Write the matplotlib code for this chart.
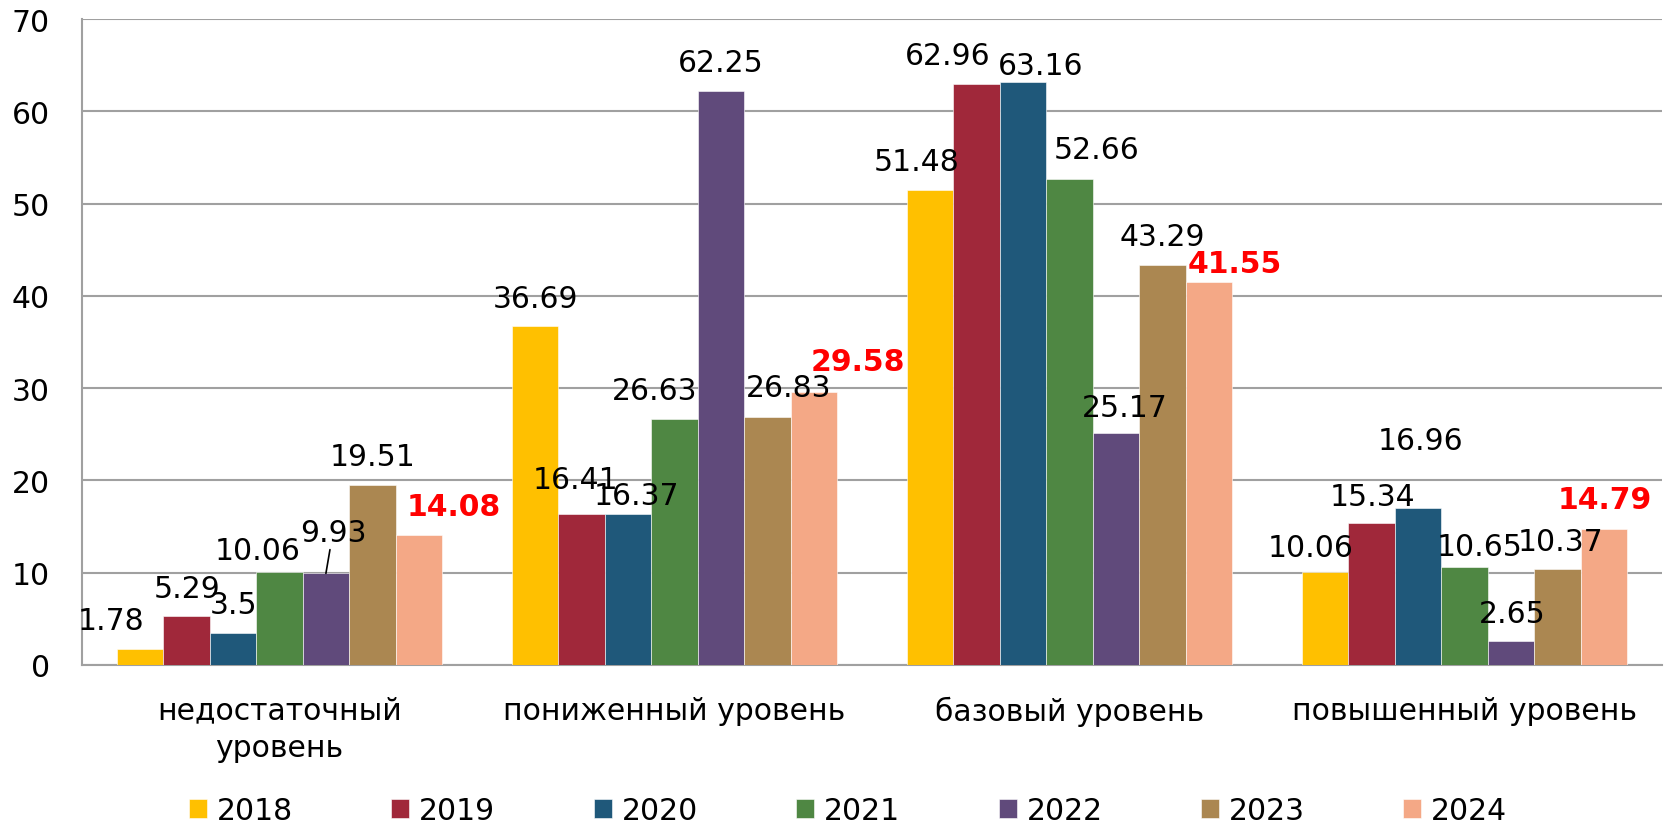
import numpy as np
import matplotlib
matplotlib.use("Agg")
import matplotlib.pyplot as plt

# --- DATA ---
categories = ["недостаточный\nуровень", "пониженный уровень", "базовый уровень", "повышенный уровень"]
years = ["2018", "2019", "2020", "2021", "2022", "2023", "2024"]
v2018 = [1.78, 36.69, 51.48, 10.06]
v2019 = [5.29, 16.41, 62.96, 15.34]
v2020 = [3.5, 16.37, 63.16, 16.96]
v2021 = [10.06, 26.63, 52.66, 10.65]
v2022 = [9.93, 62.25, 25.17, 2.65]
v2023 = [19.51, 26.83, 43.29, 10.37]
v2024 = [14.08, 29.58, 41.55, 14.79]
series = [v2018, v2019, v2020, v2021, v2022, v2023, v2024]

# --- STYLE ---
COLORS = ["#FFC000", "#A0283A", "#1F587A", "#4F8743", "#604A7B", "#AB8751", "#F4A886"]
FS = 21.5
BAR_W = 0.1175

# label offsets in pixels from bar top centre (dx, dy), per series per category
LABEL_OFFSETS = [
    [(-29, 28), (0, 28), (-14, 28), (-15, 25)],
    [(0, 28), (-6, 34), (-29, 28), (1, 27)],
    [(0, 28), (8, 18), (18, 17), (2, 68)],
    [(-22, 22), (-20, 29), (27, 30), (15, 20)],
    [(7, 41), (0, 28), (9, 25), (1, 27)],
    [(0, 28), (21, 30), (0, 29), (3, 28)],
    [(35, 29), (44, 31), (26, 18), (1, 29)],
]

plt.rcParams["font.family"] = ["DejaVu Sans"]

fig = plt.figure(figsize=(16.66, 8.28), dpi=100)
ax = fig.add_axes([82 / 1666, 1 - 666 / 828, 1580 / 1666, 646 / 828])

x = np.arange(len(categories))
for j, (vals, year) in enumerate(zip(series, years)):
    xs = x + (j - 3) * BAR_W
    ax.bar(xs, vals, width=BAR_W, color=COLORS[j], edgecolor="white",
           linewidth=0.4, label=year, zorder=3)
    for i, v in enumerate(vals):
        dx, dy = LABEL_OFFSETS[j][i]
        red = (year == "2024")
        kw = dict(textcoords="offset pixels", ha="center", va="center",
                  fontsize=FS, color="red" if red else "black",
                  fontweight="bold" if red else "normal", zorder=5)
        if j == 4 and i == 0:
            # leader line, as in the source chart
            kw["arrowprops"] = dict(arrowstyle="-", color="black", lw=1.2,
                                    shrinkA=0, shrinkB=0)
        ax.annotate(f"{v:g}", xy=(xs[i], v), xytext=(dx, dy), **kw)

ax.set_xlim(-0.5, len(categories) - 0.5)
ax.set_ylim(0, 70)
ax.set_yticks(range(0, 71, 10))
ax.set_xticks(x)
ax.set_xticklabels(categories, fontsize=FS, linespacing=1.35)
ax.tick_params(axis="x", length=0, pad=22)
ax.tick_params(axis="y", length=0, pad=23, labelsize=FS)

ax.grid(axis="y", color="#A0A0A0", linewidth=1.5, zorder=0)
for s in ["top", "right"]:
    ax.spines[s].set_visible(False)
for s in ["left", "bottom"]:
    ax.spines[s].set_color("#A0A0A0")
    ax.spines[s].set_linewidth(1.5)

fig.legend(loc="center", bbox_to_anchor=(0.509, 0.02), ncol=7, frameon=False,
           fontsize=FS, handlelength=0.6, handleheight=0.6, handletextpad=0.33,
           columnspacing=3.3)

fig.savefig("out.png", dpi=100)
